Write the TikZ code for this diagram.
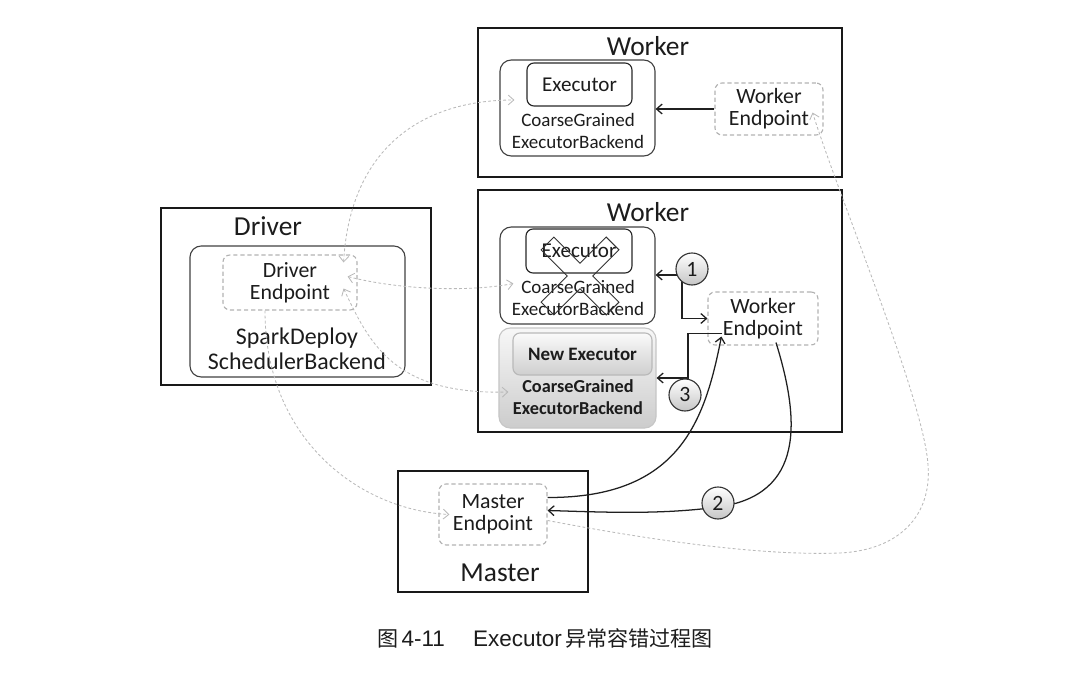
\documentclass[tikz,border=0pt]{standalone}
\usepackage{fontspec}
\setmainfont{Carlito}
\newfontfamily\cjkfont{Noto Sans CJK SC}
\newfontfamily\capfont{Liberation Sans}
\usetikzlibrary{arrows.meta,calc}
\tikzset{
  >={Straight Barb[length=4pt,width=7pt]},
  host/.style={draw=gray!20!black, line width=0.9pt},
  backend/.style={draw=gray!50!black, line width=0.8pt, rounded corners=8pt},
  exec/.style={draw=gray!30!black, line width=0.8pt, rounded corners=5pt, font=\fontsize{15}{17}\selectfont},
  newbackend/.style={draw=gray!45, line width=0.8pt, rounded corners=8pt, top color=gray!6, bottom color=gray!40},
  newexec/.style={draw=gray!55, line width=0.8pt, rounded corners=5pt, top color=gray!4, bottom color=gray!38, font=\bfseries\fontsize{13.5}{17}\selectfont},
  endpt/.style={draw=gray!60, dash pattern=on 3pt off 2pt, line width=0.8pt, rounded corners=5pt, align=center, inner sep=0pt, font=\fontsize{15.5}{15.6}\selectfont},
  title/.style={font=\fontsize{19.5}{22}\selectfont},
  lbl/.style={align=center, font=\fontsize{13.5}{15.6}\selectfont},
  num/.style={circle, draw=gray!40!black, line width=0.8pt, minimum size=0.8cm, inner sep=0pt, top color=white, bottom color=gray!45, font=\fontsize{15.5}{17}\selectfont},
  flow/.style={->, draw=gray!25!black, line width=0.9pt},
  side/.style={draw=gray!55, line width=0.6pt, dash pattern=on 2pt off 1.6pt},
  every node/.append style={text=gray!22!black}
}
\begin{document}
\begin{tikzpicture}[x=0.025cm, y=-0.025cm]
\useasboundingbox (0,0) rectangle (1085,674);
% upper worker
\node[host, minimum width=9.1cm, minimum height=3.725cm] (w1) at (660,102.5) {};
\node[title] (w1t) at (648,46) {Worker};
\node[backend, minimum width=3.875cm, minimum height=2.4cm] (be1) at (577.5,108) {};
\node[exec, minimum width=2.625cm, minimum height=1.075cm] (ex1) at (579.5,84.5) {Executor};
\node[lbl] (be1t) at (578,131) {CoarseGrained\\ExecutorBackend};
\node[endpt, minimum width=2.7cm, minimum height=1.3cm] (wep1) at (769,109) {Worker\\Endpoint};
\draw[flow] (wep1.west) -- (wep1.west -| be1.east);
% lower worker
\node[host, minimum width=9.1cm, minimum height=6.05cm] (w2) at (660,311) {};
\node[title] (w2t) at (648,212) {Worker};
\node[backend, minimum width=3.875cm, minimum height=2.425cm] (be2) at (577.5,275.5) {};
\node[exec, minimum width=2.65cm, minimum height=1.1cm] (ex2) at (579,251) {Executor};
\node[lbl] (be2t) at (578,298) {CoarseGrained\\ExecutorBackend};
\begin{scope}[shift={(580,276)}, rotate=45]
\draw[gray!40!black, line width=0.7pt] (9,46) -- (9,9) -- (46,9) -- (46,-9) -- (9,-9) -- (9,-46)
  -- (-9,-46) -- (-9,-9) -- (-46,-9) -- (-46,9) -- (-9,9) -- (-9,46) -- cycle;
\end{scope}
\node[newbackend, minimum width=3.925cm, minimum height=2.5cm] (be3) at (577.5,378) {};
\node[newexec, minimum width=3.475cm, minimum height=1.05cm] (ex3) at (582.5,354) {New Executor};
\node[lbl, font=\bfseries\fontsize{13}{15.6}\selectfont] (be3t) at (578,397) {CoarseGrained\\ExecutorBackend};
\node[endpt, minimum width=2.75cm, minimum height=1.325cm] (wep2) at (763,318.5) {Worker\\Endpoint};
\coordinate (k1) at (682,275);
\coordinate (k3) at (688,378);
\draw[flow] (k1) -- (k1 -| be2.east);
\draw[flow] (k1) |- (wep2.west);
\draw[flow] ([xshift=0.375cm,yshift=-0.375cm]wep2.west) -| (k3) -- (k3 -| be3.east);
% driver
\node[host, minimum width=6.75cm, minimum height=4.425cm] (drv) at (296,296.5) {};
\node[title] (drvt) at (268,226) {Driver};
\node[backend, minimum width=5.375cm, minimum height=3.275cm] (sbe) at (297.5,311.5) {};
\node[endpt, minimum width=3.35cm, minimum height=1.375cm] (dep) at (290,282.5) {Driver\\Endpoint};
\node[lbl, font=\fontsize{17}{17.7}\selectfont] (sbet) at (297,349) {SparkDeploy\\SchedulerBackend};
% master
\node[host, minimum width=4.75cm, minimum height=3.025cm] (mst) at (493,531.5) {};
\node[title] (mstt) at (500,573) {Master};
\node[endpt, minimum width=2.7cm, minimum height=1.525cm] (mep) at (493,514.5) {Master\\Endpoint};
% master <-> worker
\draw[flow] ([yshift=0.425cm]mep.east) .. controls (680,498) and (705,420) .. ([xshift=0.35cm,yshift=-0.45cm]wep2.west);
\draw[flow] ([xshift=0.325cm,yshift=0.075cm]wep2.south) .. controls (800,420) and (805,495) .. (718,507)
  .. controls (660,515) and (600,512) .. ([yshift=0.1cm]mep.east);
\node[num] (n1) at (692,269) {1};
\node[num] (n2) at (718,503) {2};
\node[num] (n3) at (685,395) {3};
% dotted links
\draw[side, <->] ([xshift=-0.35cm,yshift=-0.2cm]dep.north east) .. controls (350,150) and (420,100) .. ([xshift=0.375cm,yshift=0.2cm]be1.west);
\draw[side, <->] ([xshift=-0.25cm,yshift=0.15cm]dep.east) .. controls (400,290) and (470,292) .. ([xshift=0.35cm,yshift=-0.2cm]be2.west);
\draw[side, <->] ([xshift=-0.35cm,yshift=-0.15cm]dep.east) .. controls (370,345) and (395,395) .. ([xshift=0.25cm,yshift=-0.35cm]be3.west);
\draw[side, ->] ([xshift=-0.625cm]dep.south) .. controls (265,440) and (360,510) .. ([xshift=0.275cm]mep.west);
\draw[side, ->] ([yshift=-0.15cm]mep.east) .. controls (650,540) and (760,556) .. (840,553)
  .. controls (900,550) and (932,515) .. (928,465) .. controls (924,400) and (840,200) .. ([xshift=-0.275cm,yshift=0.575cm]wep1.south east);
% caption
\node (cap) at (545,638) {{\cjkfont\fontsize{15}{18}\selectfont 图} {\capfont\fontsize{16}{18}\selectfont 4-11\hspace{20pt}Executor} {\cjkfont\fontsize{15}{18}\selectfont 异常容错过程图}};
\end{tikzpicture}
\end{document}
